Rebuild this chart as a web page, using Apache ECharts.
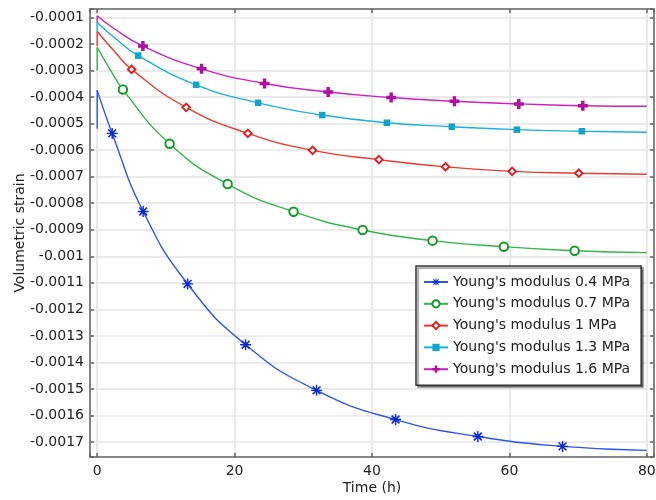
<!DOCTYPE html>
<html><head><meta charset="utf-8">
<script src="https://cdn.jsdelivr.net/npm/echarts@6/dist/echarts.min.js"></script>
<style>html,body{margin:0;padding:0;background:#fff}#c{width:656px;height:500px}</style>
</head><body><div id="c"></div>
<script>
const seriesNames = ["Young's modulus 0.4 MPa", "Young's modulus 0.7 MPa", "Young's modulus 1 MPa", "Young's modulus 1.3 MPa", "Young's modulus 1.6 MPa"];

// Time (h), volumetric strain, marker flags (1 = marker drawn), vertical jump at t=0
const time04 = [0, 2.18, 6.69, 13.16, 21.6, 31.93, 43.43, 55.41, 67.73, 80];
const strain04 = [-0.000375, -0.000537, -0.000831, -0.001104, -0.001333, -0.001505, -0.001615, -0.001679, -0.001716, -0.001731];
const marks04 = [0, 1, 1, 1, 1, 1, 1, 1, 1, 0];
const jump04 = [-0.00052, -0.000375];

const time07 = [0, 1.8, 3.74, 10.54, 18.98, 28.58, 38.63, 48.81, 59.19, 69.5, 80];
const strain07 = [-0.000213, -0.000293, -0.000372, -0.000576, -0.000728, -0.000832, -0.000901, -0.000941, -0.000964, -0.000979, -0.000986];
const marks07 = [0, 0, 1, 1, 1, 1, 1, 1, 1, 1, 0];
const jump07 = [-0.0003, -0.000213];

const time10 = [0, 2.5, 5.01, 12.95, 21.93, 31.35, 41.0, 50.7, 60.4, 70.1, 80];
const strain10 = [-0.000153, -0.000228, -0.000296, -0.000439, -0.000537, -0.000601, -0.000636, -0.000663, -0.00068, -0.000687, -0.000691];
const marks10 = [0, 0, 1, 1, 1, 1, 1, 1, 1, 1, 0];
const jump10 = [-0.000209, -0.000153];

const time13 = [0, 2.5, 5.97, 14.41, 23.43, 32.75, 42.17, 51.63, 61.09, 70.54, 80];
const strain13 = [-0.000119, -0.000176, -0.000244, -0.000354, -0.000422, -0.000468, -0.000497, -0.000512, -0.000523, -0.000529, -0.000533];
const marks13 = [0, 0, 1, 1, 1, 1, 1, 1, 1, 1, 0];
const jump13 = [-0.000153, -0.000119];

const time16 = [0, 2.5, 6.65, 15.19, 24.36, 33.62, 42.79, 52.0, 61.37, 70.69, 80];
const strain16 = [-0.0000936, -0.000143, -0.000208, -0.000294, -0.000349, -0.000381, -0.000402, -0.000416, -0.000426, -0.000433, -0.000435];
const marks16 = [0, 0, 1, 1, 1, 1, 1, 1, 1, 1, 0];
const jump16 = [-0.000119, -0.0000936];

const xTicks = [0, 20, 40, 60, 80];

// styles
const ASTERISK = 'path://M8.7 0H11.3V20H8.7Z M0 8.7H20V11.3H0Z M3.99 1.87L18.13 16.01L16.01 18.13L1.87 3.99Z M16.01 1.87L18.13 3.99L3.99 18.13L1.87 16.01Z';
const PLUS = 'path://M6.5 0H13.5V6.5H20V13.5H13.5V20H6.5V13.5H0V6.5H6.5Z';
const styles = [
  {line: '#2e55ea', mark: '#0a2bd2', symbol: ASTERISK, size: 11, empty: false},
  {line: '#30b64a', mark: '#159a2c', symbol: 'emptyCircle', size: 8.5, empty: true},
  {line: '#ec3a2e', mark: '#dd2222', symbol: 'emptyDiamond', size: 7.5, empty: true},
  {line: '#18b2da', mark: '#0ea4cc', symbol: 'rect', size: 6.5, empty: false},
  {line: '#cc22bb', mark: '#b0109e', symbol: PLUS, size: 10, empty: false}
];
const allT = [time04, time07, time10, time13, time16];
const allV = [strain04, strain07, strain10, strain13, strain16];
const allM = [marks04, marks07, marks10, marks13, marks16];
const allJ = [jump04, jump07, jump10, jump13, jump16];

const series = [];
for (let i = 0; i < 5; i++) {
  const st = styles[i];
  const data = allT[i].map((t, k) => allM[i][k] ? {value: [t, allV[i][k]]} : {value: [t, allV[i][k]], symbol: 'none'});
  series.push({
    name: seriesNames[i], type: 'line', smooth: 0.5, data: data,
    showSymbol: true, symbol: st.symbol, symbolSize: st.size,
    lineStyle: {color: st.line, width: 1.4},
    itemStyle: {color: st.mark, borderColor: st.mark, borderWidth: st.empty ? 1.6 : 0},
    emphasis: {disabled: true}, silent: true, z: 2 + i
  });
  series.push({
    name: seriesNames[i] + ' start', type: 'line', symbol: 'none',
    data: [[0, allJ[i][0]], [0, allJ[i][1]]],
    lineStyle: {color: st.line, width: 1.4}, silent: true, z: 2 + i
  });
}

const frame = {color: '#666', width: 1.5};
const font = 'DejaVu Sans';
const xmin = -1.05, xmax = 81.05, ymin = -0.001756, ymax = -0.0000685;
const xFmt = v => (xTicks.some(t => Math.abs(t - v) < 1e-6) ? String(Math.round(v)) : '');
const yFmt = v => { const r = Math.round(v / 0.0001); return Math.abs(v / 0.0001 - r) < 1e-6 ? String(+(r * 0.0001).toFixed(4)) : ''; };

const option = {
  animation: false,
  backgroundColor: '#fff',
  grid: {left: 90, right: 2, top: 9, bottom: 43, containLabel: false, outerBoundsMode: 'none'},
  legend: {
    orient: 'vertical', left: 416, top: 266,
    data: seriesNames, itemWidth: 24, itemHeight: 9, itemGap: 7.8,
    padding: [9, 11, 9, 7], backgroundColor: '#fff', borderColor: '#333', borderWidth: 1.5,
    shadowColor: 'rgba(0,0,0,0.45)', shadowBlur: 1, shadowOffsetX: 2, shadowOffsetY: 2,
    textStyle: {fontSize: 14, color: '#222', fontFamily: font}, selectedMode: false
  },
  xAxis: [{
    type: 'value', position: 'bottom', min: xmin, max: xmax, minInterval: 20, maxInterval: 20,
    axisLine: {show: true, onZero: false, lineStyle: frame},
    axisTick: {show: true, inside: true, length: 4, lineStyle: frame},
    axisLabel: {color: '#222', fontSize: 14, fontFamily: font, margin: 7, formatter: xFmt},
    splitLine: {show: true, lineStyle: {color: '#e4e4e4', width: 1.5}},
    name: 'Time (h)', nameLocation: 'middle', nameGap: 24, nameMoveOverlap: false,
    nameTextStyle: {fontSize: 14, color: '#222', fontFamily: font}
  }, {
    type: 'value', position: 'top', min: xmin, max: xmax, minInterval: 20, maxInterval: 20,
    axisLine: {show: true, onZero: false, lineStyle: frame},
    axisTick: {show: true, inside: true, length: 4, lineStyle: frame},
    axisLabel: {show: false}, splitLine: {show: false}
  }],
  yAxis: [{
    type: 'value', position: 'left', min: ymin, max: ymax, minInterval: 0.0001, maxInterval: 0.0001, splitNumber: 16,
    axisLine: {show: true, onZero: false, lineStyle: frame},
    axisTick: {show: true, inside: true, length: 4, lineStyle: frame},
    axisLabel: {color: '#222', fontSize: 14, fontFamily: font, margin: 6, formatter: yFmt},
    splitLine: {show: true, lineStyle: {color: '#e4e4e4', width: 1.5}},
    name: 'Volumetric strain', nameLocation: 'middle', nameGap: 63, nameMoveOverlap: false,
    nameTextStyle: {fontSize: 14, color: '#222', fontFamily: font}
  }, {
    type: 'value', position: 'right', min: ymin, max: ymax, minInterval: 0.0001, maxInterval: 0.0001, splitNumber: 16,
    axisLine: {show: true, onZero: false, lineStyle: frame},
    axisTick: {show: true, inside: true, length: 4, lineStyle: frame},
    axisLabel: {show: false}, splitLine: {show: false}
  }],
  series: series
};
const chart = echarts.init(document.getElementById('c'), null, {renderer: 'canvas'});
chart.setOption(option);
</script>
</body></html>
